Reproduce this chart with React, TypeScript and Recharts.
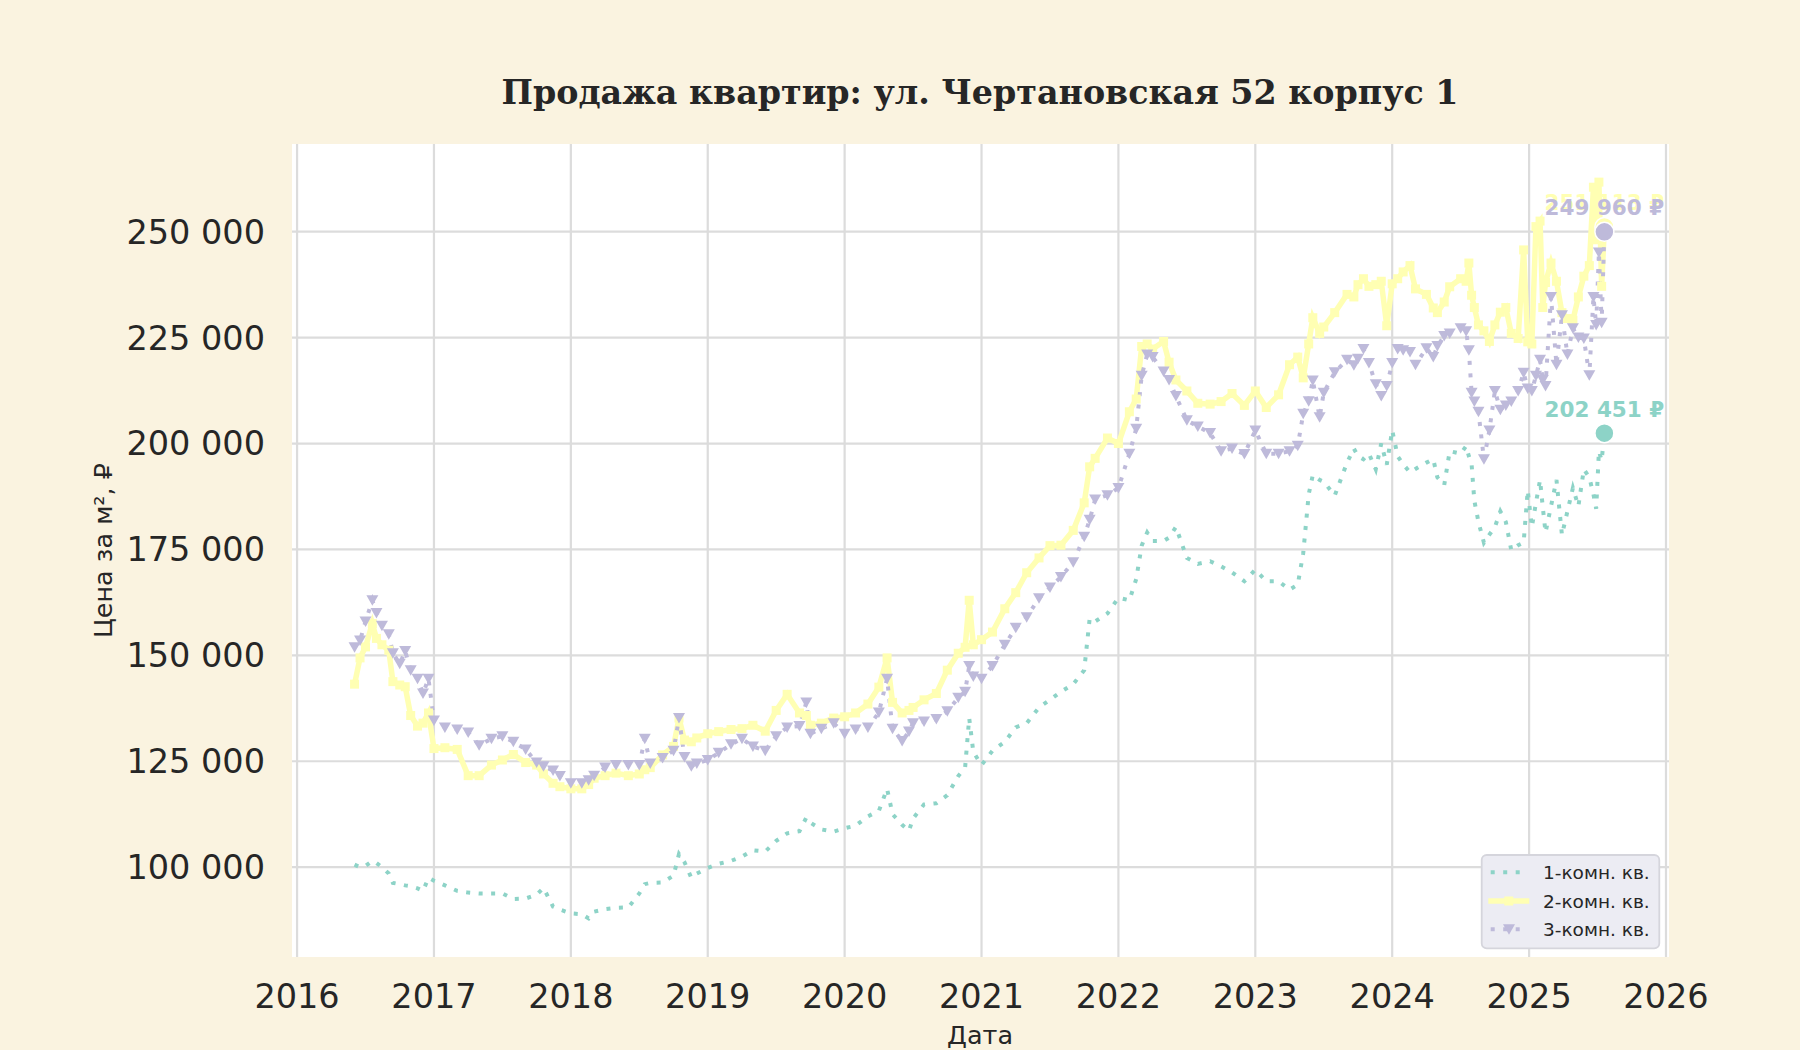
import React from 'react';
import { LineChart, Line, XAxis, YAxis, CartesianGrid, ReferenceDot } from 'recharts';

// decimal years of the observations
const DATES = [
  2016.42, 2016.46, 2016.5, 2016.55, 2016.58, 2016.62, 2016.67, 2016.7, 2016.75, 2016.79, 2016.83, 2016.88, 2016.92, 2016.96,
  2017.0, 2017.08, 2017.17, 2017.25, 2017.33, 2017.42, 2017.5, 2017.58, 2017.67, 2017.75, 2017.8, 2017.87, 2017.92,
  2018.0, 2018.08, 2018.13, 2018.17, 2018.25, 2018.33, 2018.42, 2018.5, 2018.54, 2018.58, 2018.67, 2018.75, 2018.79, 2018.83, 2018.88, 2018.92,
  2019.0, 2019.08, 2019.17, 2019.25, 2019.33, 2019.42, 2019.5, 2019.58, 2019.67, 2019.72, 2019.75, 2019.83, 2019.92,
  2020.0, 2020.08, 2020.17, 2020.25, 2020.31, 2020.35, 2020.42, 2020.47, 2020.5, 2020.58, 2020.67, 2020.75, 2020.83, 2020.88, 2020.91, 2020.94,
  2021.0, 2021.08, 2021.17, 2021.25, 2021.33, 2021.42, 2021.5, 2021.58, 2021.67, 2021.75, 2021.79, 2021.83, 2021.92,
  2022.0, 2022.08, 2022.13, 2022.17, 2022.21, 2022.25, 2022.33, 2022.37, 2022.42, 2022.5, 2022.58, 2022.67, 2022.75, 2022.83, 2022.92,
  2023.0, 2023.08, 2023.17, 2023.25, 2023.31, 2023.35, 2023.39, 2023.42, 2023.47, 2023.5, 2023.58, 2023.67, 2023.72, 2023.75, 2023.79, 2023.83, 2023.88, 2023.92, 2023.96,
  2024.0, 2024.04, 2024.08, 2024.13, 2024.17, 2024.25, 2024.3, 2024.33, 2024.38, 2024.42, 2024.5, 2024.54, 2024.56, 2024.58, 2024.6, 2024.63, 2024.67, 2024.71, 2024.75, 2024.79, 2024.83, 2024.87, 2024.92, 2024.96, 2024.99,
  2025.02, 2025.05, 2025.08, 2025.1, 2025.12, 2025.16, 2025.2, 2025.24, 2025.28, 2025.32, 2025.36, 2025.4, 2025.44, 2025.47, 2025.49, 2025.51, 2025.53, 2025.55,
];

// price per m², rubles
const ONE_ROOM = [
  100600, 100000, 100300, 101500, 101000, 100000, 98500, 96300, 96000, 95700, 95500, 95000, 94400, 97500,
  96800, 95700, 94400, 94000, 93800, 93800, 93800, 92500, 92600, 93500, 95100, 90700, 90000,
  89100, 88900, 87900, 89500, 90100, 90400, 90500, 93800, 96000, 96300, 96400, 98000, 103100, 101200, 97500, 98500,
  99800, 100800, 101500, 102500, 104000, 103700, 106200, 108000, 108500, 111700, 110500, 108900, 108400,
  109200, 109800, 112000, 113300, 118500, 112500, 110000, 108600, 111500, 114800, 115100, 117000, 121500, 123500, 135200, 127200,
  124100, 127500, 129600, 133000, 134000, 137700, 139500, 141400, 143200, 146500, 158700, 158000, 159900,
  163600, 163000, 168000, 175900, 179000, 177000, 177000, 177800, 180300, 173000, 171600, 172200, 171000, 169600, 167500,
  170200, 167500, 167500, 165500, 166700, 174100, 188000, 192600, 191400, 191000, 187700, 195500, 198800, 197000, 196300, 197600, 193900, 200000, 195000,
  203100, 197000, 195100, 193200, 194000, 195500, 196300, 192000, 190200, 198200, 197600, 199400, 197000, 195100, 186500, 181500, 176600, 178500, 180300, 184000, 181500, 174800, 176000, 176600, 188900,
  180300, 186000, 191400, 185000, 179000, 185200, 191400, 178400, 184000, 189500, 185200, 193900, 192000, 188000, 184600, 198200, 196000, 202451,
];

const TWO_ROOM = [
  143200, 149400, 152000, 157500, 154000, 152500, 151200, 143800, 143000, 142600, 135800, 133300, 134000, 136400,
  128000, 128200, 127800, 121600, 121600, 124100, 125300, 126600, 124700, 124100, 122000, 119800, 119000,
  118500, 118500, 119500, 121000, 121600, 122200, 121600, 122000, 123000, 123500, 126500, 128500, 135200, 130000, 129600, 130500,
  131500, 132000, 132500, 132700, 133500, 132100, 137000, 140800, 136400, 135800, 133500, 134000, 135200,
  135500, 136400, 138500, 142500, 149400, 138900, 136400, 137000, 137700, 139500, 141000, 146500, 150500, 151900, 163000, 152500,
  153700, 155500, 161000, 164800, 169500, 173000, 175900, 176000, 179500, 186000, 194500, 196500, 201300,
  200000, 207500, 210500, 222900, 223500, 222300, 224100, 219200, 215000, 212400, 209500, 209300, 209900, 211800, 209000,
  212400, 208500, 211500, 218600, 220400, 215500, 223500, 229700, 226000, 227500, 230900, 235200, 234600, 237500, 238900, 237100, 237500, 238300, 227800,
  237700, 238900, 240500, 242000, 236500, 235200, 232000, 230900, 233400, 237000, 238900, 238300, 242600, 235000, 232100, 228000, 226600, 224100, 228000, 231000, 232100, 226000, 224800, 245700, 224000,
  223500, 251200, 252500, 232100, 238000, 242600, 238300, 230900, 229500, 229100, 234600, 239500, 242000, 260500, 248100, 261700, 237100, 251113,
];

const THREE_ROOM = [
  151900, 153500, 158000, 163000, 160000, 157000, 155000, 150500, 148000, 151000, 146500, 144500, 141000, 144500,
  134600, 133000, 132500, 131800, 128800, 130300, 130900, 129600, 127800, 124700, 123800, 122800, 121500,
  119800, 119800, 120500, 121600, 123500, 124100, 124100, 124100, 130300, 124500, 125800, 127500, 135200, 126000, 123800, 124500,
  125300, 127000, 129000, 130300, 128500, 127500, 130900, 133000, 133300, 138900, 131500, 132700, 134000,
  131500, 132500, 133000, 136500, 144500, 132700, 129800, 132000, 134000, 134400, 135000, 136800, 140000, 141400, 147500, 145000,
  144500, 147500, 152500, 156500, 159000, 163500, 166000, 168500, 172000, 178000, 182000, 186800, 187800,
  189500, 197600, 203500, 216000, 221000, 220400, 217000, 215000, 211200, 205500, 204000, 202500, 198200, 198800, 197500,
  203100, 197600, 197600, 198200, 199500, 207000, 210000, 214900, 206200, 212000, 216800, 219800, 218500, 220000, 222300, 219000, 214000, 211200, 213600,
  219000, 222300, 222000, 221600, 218600, 222500, 220400, 223000, 225400, 226000, 227200, 226500, 222000, 212000, 209900, 207500, 196300, 203100, 212400, 208000, 209000, 209900, 212400, 216700, 213000,
  212400, 216000, 219800, 215000, 213600, 234600, 218600, 230300, 221000, 227200, 225000, 224800, 216100, 234600, 228000, 245100, 228500, 249960,
];

const YEAR_TICKS = [2016, 2017, 2018, 2019, 2020, 2021, 2022, 2023, 2024, 2025, 2026];
const PRICE_TICKS = [100000, 125000, 150000, 175000, 200000, 225000, 250000];
const SERIES_NAMES = ['1-комн. кв.', '2-комн. кв.', '3-комн. кв.'];
const COLORS = ['#8dd3c7', '#ffffb3', '#bebada'];

const TEXT = '#262626';
const BG = '#faf3e0';

const rows = DATES.map((x, i) => ({ x, one: ONE_ROOM[i], two: TWO_ROOM[i], three: THREE_ROOM[i] }));

const fmt = (v: number) => String(Math.round(v)).replace(/\B(?=(\d{3})+(?!\d))/g, ' ');

const SquareDot = (props: any) => {
  const { cx, cy, index } = props;
  if (cx == null || cy == null) return <g key={`sq-${index}`} />;
  return <rect key={`sq-${index}`} x={cx - 4.5} y={cy - 4.5} width={9} height={9} fill={COLORS[1]} />;
};

const TriangleDot = (props: any) => {
  const { cx, cy, index } = props;
  if (cx == null || cy == null) return <g key={`tr-${index}`} />;
  return <path key={`tr-${index}`} d={`M${cx - 6},${cy - 5}L${cx + 6},${cy - 5}L${cx},${cy + 5.5}Z`} fill={COLORS[2]} />;
};

// circle on the last value with its price written above
const lastMarker = (color: string, text: string) => (props: any) => {
  const { cx, cy } = props;
  return (
    <g>
      <circle cx={cx} cy={cy} r={9.5} fill={color} stroke="#ffffff" strokeWidth={1.5} />
      <text x={cx} y={cy - 16.5} textAnchor="middle" fill={color} fontFamily="DejaVu Sans" fontWeight="bold" fontSize={21.5}>
        {text}
      </text>
    </g>
  );
};

const LegendBox = () => {
  const rowsY = [872.3, 901, 929.3];
  return (
    <g>
      <rect x={1481.7} y={855} width={177.6} height={93.3} rx={5} fill="#ececf3" stroke="#d5d5dc" strokeWidth={1.8} />
      <line x1={1490.7} x2={1527.7} y1={rowsY[0]} y2={rowsY[0]} stroke={COLORS[0]} strokeWidth={4} strokeDasharray="4 8.5" />
      <line x1={1488.3} x2={1529.3} y1={rowsY[1]} y2={rowsY[1]} stroke={COLORS[1]} strokeWidth={5.5} />
      <rect x={1508.8 - 4.5} y={rowsY[1] - 4.5} width={9} height={9} fill={COLORS[1]} />
      <line x1={1490.7} x2={1527.7} y1={rowsY[2]} y2={rowsY[2]} stroke={COLORS[2]} strokeWidth={4} strokeDasharray="4 8.5" />
      <path d={`M${1509 - 6},${rowsY[2] - 5}L${1509 + 6},${rowsY[2] - 5}L${1509},${rowsY[2] + 5.5}Z`} fill={COLORS[2]} />
      {SERIES_NAMES.map((name, i) => (
        <text key={name} x={1543} y={rowsY[i]} dominantBaseline="central" fontFamily="DejaVu Sans" fontSize={18.5} fill={TEXT}>
          {name}
        </text>
      ))}
    </g>
  );
};

export default function App() {
  const last = DATES[DATES.length - 1];
  const lastOne = ONE_ROOM[ONE_ROOM.length - 1];
  const lastTwo = TWO_ROOM[TWO_ROOM.length - 1];
  const lastThree = THREE_ROOM[THREE_ROOM.length - 1];
  const tick = { fontSize: 33.5, fill: TEXT, fontFamily: 'DejaVu Sans' };

  return (
    <div style={{ position: 'absolute', left: 0, top: 0, width: 1800, height: 1050, background: BG, overflow: 'hidden' }}>
      {/* white plotting area */}
      <div style={{ position: 'absolute', left: 292, top: 144, width: 1377, height: 813, background: '#ffffff' }} />
      <LineChart
        width={1800}
        height={1050}
        data={rows}
        margin={{ top: 144, right: 131, bottom: 53, left: 192 }}
        style={{ position: 'absolute', left: 0, top: 0 }}
      >
        <CartesianGrid stroke="#dcdcdc" strokeWidth={2.2} syncWithTicks />
        <XAxis
          type="number"
          dataKey="x"
          domain={[2015.963, 2026.022]}
          ticks={YEAR_TICKS}
          interval={0}
          allowDataOverflow
          height={40}
          axisLine={false}
          tickLine={false}
          tickSize={0}
          tickMargin={27}
          tick={tick}
          tickFormatter={(v) => String(v)}
        />
        <YAxis
          type="number"
          domain={[78800, 270700]}
          ticks={PRICE_TICKS}
          interval={0}
          allowDataOverflow
          width={100}
          axisLine={false}
          tickLine={false}
          tickSize={0}
          tickMargin={27}
          tick={tick}
          tickFormatter={fmt}
        />
        <Line type="linear" dataKey="one" stroke={COLORS[0]} strokeWidth={4} strokeDasharray="4 8.5" dot={false} activeDot={false} isAnimationActive={false} />
        <Line type="linear" dataKey="two" stroke={COLORS[1]} strokeWidth={5.5} dot={SquareDot} activeDot={false} isAnimationActive={false} />
        <Line type="linear" dataKey="three" stroke={COLORS[2]} strokeWidth={4} strokeDasharray="4 8.5" dot={TriangleDot} activeDot={false} isAnimationActive={false} />
        <ReferenceDot x={last} y={lastOne} r={9.5} shape={lastMarker(COLORS[0], `${fmt(lastOne)} ₽`)} />
        <ReferenceDot x={last} y={lastTwo} r={9.5} shape={lastMarker(COLORS[1], `${fmt(lastTwo)} ₽`)} />
        <ReferenceDot x={last} y={lastThree} r={9.5} shape={lastMarker(COLORS[2], `${fmt(lastThree)} ₽`)} />
      </LineChart>
      <svg width={1800} height={1050} style={{ position: 'absolute', left: 0, top: 0, pointerEvents: 'none' }}>
        <text x={980} y={104} textAnchor="middle" fontFamily="DejaVu Serif" fontWeight="bold" fontSize={33.3} fill={TEXT}>
          Продажа квартир: ул. Чертановская 52 корпус 1
        </text>
        <text x={980} y={1035} textAnchor="middle" dominantBaseline="central" fontFamily="DejaVu Sans" fontSize={25.5} fill={TEXT}>
          Дата
        </text>
        <text
          x={103}
          y={550.5}
          textAnchor="middle"
          dominantBaseline="central"
          transform="rotate(-90 103 550.5)"
          fontFamily="DejaVu Sans"
          fontSize={25.5}
          fill={TEXT}
        >
          Цена за м², ₽
        </text>
        <LegendBox />
      </svg>
    </div>
  );
}
